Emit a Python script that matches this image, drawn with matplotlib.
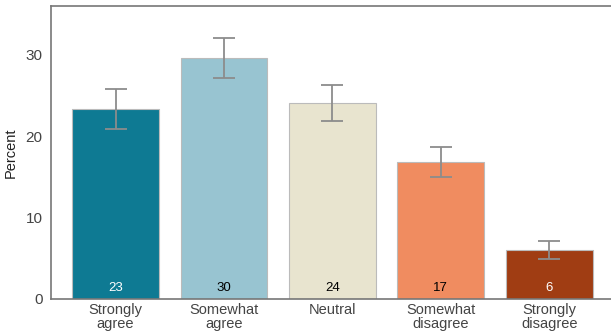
import matplotlib
matplotlib.use("Agg")
import matplotlib.pyplot as plt
import numpy as np

plt.rcParams['font.family'] = ['Liberation Sans', 'DejaVu Sans']

categories = ["Strongly\nagree", "Somewhat\nagree", "Neutral", "Somewhat\ndisagree", "Strongly\ndisagree"]
values = [23.3, 29.6, 24.1, 16.8, 6.0]
errors = [2.45, 2.45, 2.2, 1.85, 1.1]
labels = ["23", "30", "24", "17", "6"]
colors = ["#0E7A93", "#98C4D1", "#E8E4CF", "#F08C60", "#A03D13"]
label_colors = ["white", "black", "black", "black", "white"]

fig = plt.figure(figsize=(6.11, 3.31), dpi=100)
ax = fig.add_axes([51/611, 1 - 299/331, 560/611, 293/331])
x = np.arange(len(categories))
ax.bar(x, values, width=0.8, color=colors, edgecolor="#BBBBBB", linewidth=0.8,
       yerr=errors, error_kw=dict(ecolor="#8C8C8C", elinewidth=1.3, capsize=8, capthick=1.3))
for xi, lab, c in zip(x, labels, label_colors):
    ax.text(xi, 0.6, lab, ha="center", va="bottom", color=c, fontsize=9.5)
ax.set_xlim(-0.595, 4.57)
ax.set_ylim(0, 36)
ax.set_yticks([0, 10, 20, 30])
ax.set_xticks(x)
ax.set_xticklabels(categories, fontsize=10.5, color="#444444", linespacing=1.0)
ax.tick_params(axis="y", labelsize=11, colors="#444444", length=0, pad=6)
ax.tick_params(axis="x", length=0, pad=3)
ax.set_ylabel("Percent", fontsize=10.5, color="#222222")
ax.yaxis.set_label_coords(-0.059, 0.5)
for s in ["left", "bottom", "top"]:
    ax.spines[s].set_color("#777777")
    ax.spines[s].set_linewidth(1.2)
ax.spines["right"].set_visible(False)
fig.savefig("out.png", dpi=100)
